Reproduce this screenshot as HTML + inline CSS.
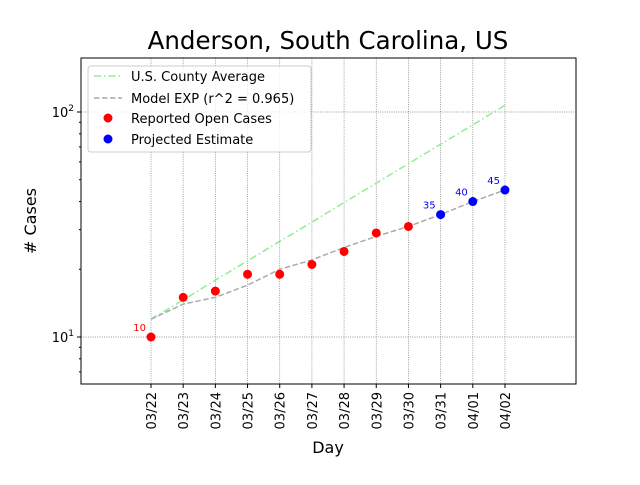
<!DOCTYPE html>
<html><head><meta charset="utf-8"><style>
body{margin:0;background:#fff;font-family:"Liberation Sans","DejaVu Sans",sans-serif;}
svg text{font-family:"DejaVu Sans","Liberation Sans",sans-serif;}
</style></head><body>
<svg id="chart" width="640" height="480" xmlns="http://www.w3.org/2000/svg">
<rect width="640" height="480" fill="#fff"/>
<text x="328" y="49" font-size="24.5" text-anchor="middle">Anderson, South Carolina, US</text>
<g id="grid"></g>
<g id="series"></g>
<rect x="81" y="58" width="495" height="326" fill="none" stroke="#000" stroke-width="1"/>
<g id="axes"></g>
<text x="328" y="453" font-size="16" text-anchor="middle">Day</text>
<text transform="translate(36,221) rotate(-90)" font-size="16" text-anchor="middle"># Cases</text>
<g>
<rect x="88" y="66" width="223" height="86" fill="#fff" fill-opacity="0.8" stroke="#ccc" rx="3"/>
<line x1="94" y1="76" x2="122" y2="76" stroke="#90ee90" stroke-width="1.5" stroke-dasharray="7,3,1.5,3"/>
<text x="131" y="81" font-size="13">U.S. County Average</text>
<line x1="94" y1="98" x2="122" y2="98" stroke="#aaa" stroke-width="1.5" stroke-dasharray="5.5,2.5"/>
<text x="131" y="103" font-size="13">Model EXP (r^2 = 0.965)</text>
<circle cx="108" cy="118" r="4.5" fill="red"/>
<text x="131" y="123" font-size="13">Reported Open Cases</text>
<circle cx="108" cy="139" r="4.5" fill="blue"/>
<text x="131" y="144" font-size="13">Projected Estimate</text>
</g>
</svg>
<script>
const categories=["03/22","03/23","03/24","03/25","03/26","03/27","03/28","03/29","03/30","03/31","04/01","04/02"];
const reported=[10,15,16,19,19,21,24,29,31];
const projected=[35,40,45];
const model=[12,14,15,17,20,22,25,28,31,35,40,45];
const countyAvg=[12,14.6,17.9,21.8,26.6,32.4,39.6,48.3,58.9,71.9,87.7,107];
const yMajor=[10,100];
const yMinor=[7,8,9,20,30,40,50,60,70,80,90];
const NS="http://www.w3.org/2000/svg";
function xs(i){return 151+i*32.18;}
function ys(v){return 337-(Math.log10(v)-1)*225;}
function mk(tag,attrs,parent){const e=document.createElementNS(NS,tag);for(const k in attrs)e.setAttribute(k,attrs[k]);document.getElementById(parent).appendChild(e);return e;}
categories.forEach((c,i)=>{
 const g=mk('line',{x1:xs(i),x2:xs(i),y1:58,y2:384,stroke:'#777','stroke-width':0.7,'stroke-dasharray':'1,1.3'},'grid');
 
 
 mk('line',{x1:xs(i),x2:xs(i),y1:384,y2:388,stroke:'#000'},'axes');
 const t=mk('text',{'font-size':13,'text-anchor':'end',transform:`translate(${xs(i)+5},392) rotate(-90)`},'axes');
 t.textContent=c;
 
 
});
yMajor.forEach(v=>{
 const g=mk('line',{x1:81,x2:576,y1:ys(v),y2:ys(v),stroke:'#777','stroke-width':0.7,'stroke-dasharray':'1,1.3'},'grid');
 
 
 mk('line',{x1:77,x2:81,y1:ys(v),y2:ys(v),stroke:'#000'},'axes');
 const t=mk('text',{x:74,y:ys(v)+5,'font-size':13,'text-anchor':'end'},'axes');
 
 
 t.innerHTML='10<tspan font-size="9" dy="-6">'+Math.round(Math.log10(v))+'</tspan>';
});
yMinor.forEach(v=>{mk('line',{x1:79,x2:81,y1:ys(v),y2:ys(v),stroke:'#000'},'axes');});
function path(arr){return arr.map((v,i)=>(i?'L':'M')+xs(i)+','+ys(v)).join(' ');}
let p=mk('path',{d:path(countyAvg),fill:'none',stroke:'#90ee90','stroke-width':1.5,'stroke-dasharray':'7,3,1.5,3'},'series');


p=mk('path',{d:path(model),fill:'none',stroke:'#aaa','stroke-width':1.5,'stroke-dasharray':'5.5,2.5'},'series');


reported.forEach((v,i)=>{
 const c=mk('circle',{cx:xs(i),cy:ys(v),r:4.5,fill:'red'},'series');
 
 
});
const t0=mk('text',{x:xs(0)-5,y:ys(reported[0])-6,'font-size':10,fill:'red','text-anchor':'end'},'series');
t0.textContent=reported[0];


projected.forEach((v,i)=>{
 const k=reported.length+i;
 const c=mk('circle',{cx:xs(k),cy:ys(v),r:4.5,fill:'blue'},'series');
 
 
 const t=mk('text',{x:xs(k)-5,y:ys(v)-6,'font-size':10,fill:'blue','text-anchor':'end'},'series');
 t.textContent=v;
 
 
});
</script>
</body></html>
